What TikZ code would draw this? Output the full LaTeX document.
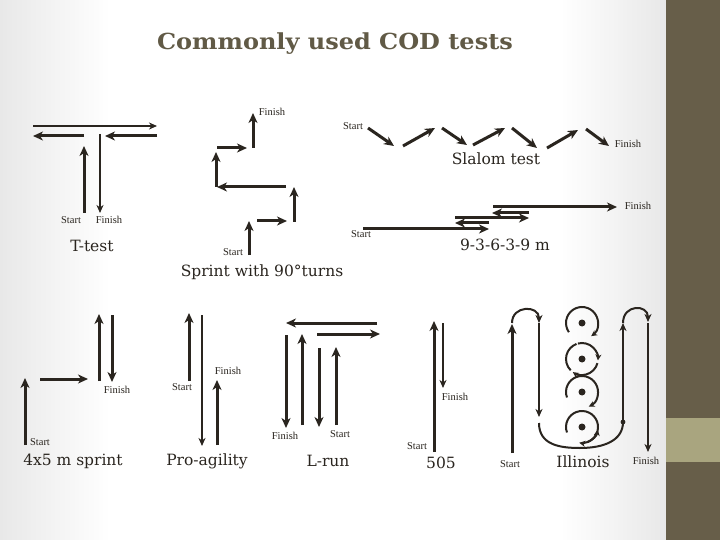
\documentclass[tikz,border=0pt]{standalone}
\usepackage{fontspec}
\setmainfont{DejaVu Serif}
\newfontfamily\tagfont{Liberation Serif}
\usetikzlibrary{arrows.meta}
\definecolor{ink}{HTML}{2A251F}
\definecolor{olive}{HTML}{675E49}
\definecolor{sage}{HTML}{A9A57F}
\definecolor{titlecol}{HTML}{615A46}
\tikzset{
  run/.style={line width=3pt, draw=ink, -{Stealth[length=10pt,width=9pt,inset=3pt]}},
  thinrun/.style={line width=2pt, draw=ink, -{Stealth[length=8pt,width=7pt,inset=2.5pt]}},
  tag/.style={font=\tagfont\fontsize{10.5}{10.5}\selectfont, text=ink, inner sep=0pt},
  testname/.style={font=\fontsize{15.5}{17}\selectfont, text=ink, inner sep=0pt},
}
\begin{document}
\begin{tikzpicture}[x=1pt, y=-1pt]
  \useasboundingbox (0,0) rectangle (720,540);
  % slide background
  \fill[white] (0,0) rectangle (720,540);
  \shade[left color=black!9, right color=white] (0,0) rectangle (110,540);
  \shade[left color=white, right color=black!9] (560,0) rectangle (666,540);
  \fill[olive] (666,0) rectangle (720,540);
  \fill[sage] (666,418) rectangle (720,462);

  \node[font=\bfseries\fontsize{24}{26}\selectfont, text=titlecol, inner sep=0pt] (title) at (335,44)
    {\scalebox{1.0}[0.92]{Commonly used COD tests}};

  % T-test
  \draw[thinrun] (33,126) -- (157,126);
  \draw[run] (84,136) -- (33,136);
  \draw[run] (157,136) -- (105,136);
  \draw[run] (84,213) -- (84,146);
  \draw[thinrun] (100,134) -- (100,213);
  \node[tag] (tstart) at (71,220) {Start};
  \node[tag] (tfinish) at (109,220) {Finish};
  \node[testname] (ttest) at (92,246) {T-test};

  % sprint with 90 degree turns
  \draw[run] (249,255) -- (249,221);
  \draw[run] (257,221) -- (287,221);
  \draw[run] (294,222) -- (294,187);
  \draw[run] (286,187) -- (217,187);
  \draw[run] (216,187) -- (216,152);
  \draw[run] (217,148) -- (247,148);
  \draw[run] (253,148) -- (253,113);
  \node[tag] (sstart) at (233,252) {Start};
  \node[tag] (sfinish) at (272,112) {Finish};
  \node[testname] (sprint) at (262,272) {Sprint with 90°turns};

  % slalom
  \foreach \xa/\ya/\xb/\yb in {368/128/394/146, 403/146/435/128, 442/128/467/145,
      473/145/505/128, 512/128/537/148, 547/148/578/130, 586/129/609/146} {
    \draw[run] (\xa,\ya) -- (\xb,\yb);
  }
  \node[tag] (lstart) at (353,126) {Start};
  \node[tag] (lfinish) at (628,144) {Finish};
  \node[testname] (slalom) at (496,159) {Slalom test};

  % 9-3-6-3-9 m
  \draw[run] (363,229) -- (489,229);
  \draw[run] (489,223) -- (455,223);
  \draw[run] (455,218) -- (529,218);
  \draw[run] (529,213) -- (492,213);
  \draw[run] (493,207) -- (617,207);
  \node[tag] (nstart) at (361,234) {Start};
  \node[tag] (nfinish) at (638,206) {Finish};
  \node[testname] (nine) at (505,245) {9-3-6-3-9 m};

  % 4x5 m sprint
  \draw[run] (25,445) -- (25,378);
  \draw[run] (40,379) -- (88,379);
  \draw[run] (99,381) -- (99,314);
  \draw[run] (112,315) -- (112,382);
  \node[tag] (fstart) at (40,442) {Start};
  \node[tag] (ffinish) at (117,390) {Finish};
  \node[testname] (four) at (73,461) {4x5 m sprint};

  % pro-agility
  \draw[run] (189,381) -- (189,313);
  \draw[thinrun] (202,315) -- (202,446);
  \draw[run] (217,445) -- (217,380);
  \node[tag] (pstart) at (182,387) {Start};
  \node[tag] (pfinish) at (228,371) {Finish};
  \node[testname] (pro) at (207,461) {Pro-agility};

  % L-run
  \draw[run] (377,323) -- (286,323);
  \draw[run] (317,334) -- (380,334);
  \draw[run] (286,335) -- (286,428);
  \draw[run] (302,425) -- (302,334);
  \draw[run] (319,348) -- (319,427);
  \draw[run] (336,425) -- (336,347);
  \node[tag] (rfinish) at (285,436) {Finish};
  \node[tag] (rstart) at (340,434) {Start};
  \node[testname] (lrun) at (328,461) {L-run};

  % 505
  \draw[run] (434,452) -- (434,321);
  \draw[thinrun] (443,323) -- (443,388);
  \node[tag] (fivestart) at (417,446) {Start};
  \node[tag] (fivefinish) at (455,397) {Finish};
  \node[testname] (five) at (441,463) {505};

  % Illinois
  \draw[run] (512,453) -- (512,324);
  \draw[thinrun] (512,323) .. controls (512,305) and (539,305) .. (539,323);
  \draw[thinrun] (539,323) -- (539,417);
  \draw[line width=2pt, ink] (539,423) .. controls (539,445) and (560,448) .. (580,448)
      .. controls (605,448) and (623,440) .. (623,422);
  \fill[ink] (623,422) circle (2.4pt);
  \draw[thinrun] (623,422) -- (623,323);
  \draw[thinrun] (623,323) .. controls (623,304) and (648,304) .. (648,322);
  \draw[thinrun] (648,323) -- (648,452);
  \foreach \cy in {323, 359, 392, 427} {
    \fill[ink] (582,\cy) circle (3.5pt);
  }
  \begin{scope}[line width=2pt, ink, ->, >={Stealth[length=6pt,width=6pt]}]
    \draw (582,323) ++(215:16pt) arc[start angle=215, end angle=-55, radius=16pt];
    \draw (582,359) ++(105:16pt) arc[start angle=105, end angle=-5, radius=16pt];
    \draw (582,359) ++(-15:16pt) arc[start angle=-15, end angle=-125, radius=16pt];
    \draw[-] (582,359) ++(-135:16pt) arc[start angle=-135, end angle=-250, radius=16pt];
    \draw (582,392) ++(200:16pt) arc[start angle=200, end angle=-65, radius=16pt];
    \draw (582,427) ++(200:16pt) arc[start angle=200, end angle=-100, radius=16pt];
    \draw (582,427) ++(-70:16pt) arc[start angle=-70, end angle=-10, radius=16pt];
  \end{scope}
  \node[tag] (istart) at (510,464) {Start};
  \node[tag] (ifinish) at (646,461) {Finish};
  \node[testname] (illinois) at (583,462) {Illinois};
\end{tikzpicture}
\end{document}
